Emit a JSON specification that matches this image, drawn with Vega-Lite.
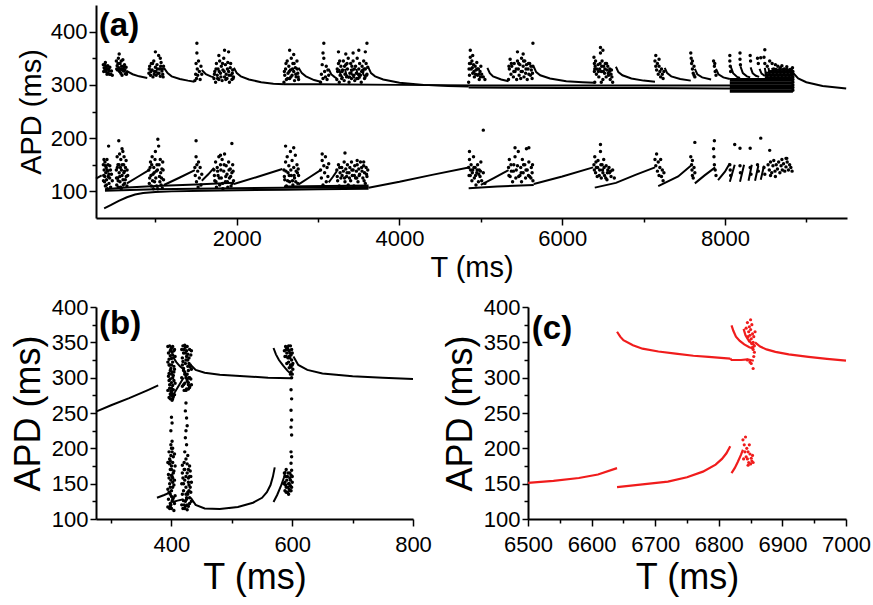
{
"$schema":"https://vega.github.io/schema/vega-lite/v6.json",
"padding":{"left":10,"top":5,"right":5,"bottom":5},
"background":"white",
"config":{"view":{"stroke":null},"font":"Liberation Sans","axis":{"labelFont":"Liberation Sans","titleFont":"Liberation Sans","labelColor":"black","titleColor":"black","domainColor":"black","tickColor":"black","labelFontSize":22,"domainWidth":2,"tickWidth":1.5,"grid":false,"titleFontWeight":"normal","labelPadding":2,"labelOverlap":false,"labelFlush":false,"format":"d"}},
"datasets":{
"aL":[
{"g":"S0","x":270,"y":124},{"g":"S0","x":340,"y":130},
{"g":"L1","x":370,"y":68},{"g":"L1","x":450,"y":74},{"g":"L1","x":550,"y":82},{"g":"L1","x":650,"y":89},{"g":"L1","x":750,"y":94},{"g":"L1","x":850,"y":97},{"g":"L1","x":1000,"y":99},{"g":"L1","x":1200,"y":100},{"g":"L1","x":1600,"y":101},{"g":"L1","x":2000,"y":102},{"g":"L1","x":2600,"y":103},{"g":"L1","x":3000,"y":104},{"g":"L1","x":3620,"y":105},
{"g":"L2","x":380,"y":104},{"g":"L2","x":600,"y":107},{"g":"L2","x":1000,"y":110},{"g":"L2","x":1500,"y":113},{"g":"L2","x":1965,"y":116},
{"g":"L3","x":2580,"y":109},{"g":"L3","x":3100,"y":110},{"g":"L3","x":3620,"y":111},
{"g":"L4","x":380,"y":101},{"g":"L4","x":1000,"y":104},{"g":"L4","x":1965,"y":106},{"g":"L4","x":3620,"y":108},
{"g":"S1","x":650,"y":115},{"g":"S1","x":780,"y":127},{"g":"S1","x":920,"y":140},
{"g":"S2","x":1105,"y":112},{"g":"S2","x":1300,"y":126},{"g":"S2","x":1485,"y":140},
{"g":"S3","x":1570,"y":120},{"g":"S3","x":1650,"y":132},{"g":"S3","x":1720,"y":144},
{"g":"S4","x":1965,"y":114},{"g":"S4","x":2250,"y":127},{"g":"S4","x":2560,"y":142},
{"g":"S5","x":2760,"y":113},{"g":"S5","x":2900,"y":127},{"g":"S5","x":3030,"y":140},
{"g":"S6","x":3130,"y":117},{"g":"S6","x":3180,"y":127},{"g":"S6","x":3230,"y":138},
{"g":"S7","x":3620,"y":107},{"g":"S7","x":4000,"y":118},{"g":"S7","x":4400,"y":131},{"g":"S7","x":4850,"y":145},
{"g":"L9","x":4850,"y":106},{"g":"L9","x":5200,"y":109},{"g":"L9","x":5650,"y":112},
{"g":"S8","x":5000,"y":112},{"g":"S8","x":5170,"y":126},{"g":"S8","x":5340,"y":140},
{"g":"S9","x":5650,"y":114},{"g":"S9","x":6000,"y":128},{"g":"S9","x":6380,"y":145},
{"g":"S10","x":6400,"y":107},{"g":"S10","x":6660,"y":116},{"g":"S10","x":6900,"y":131},{"g":"S10","x":7140,"y":145},
{"g":"S11","x":7180,"y":110},{"g":"S11","x":7425,"y":128},{"g":"S11","x":7580,"y":148},
{"g":"S12","x":7630,"y":115},{"g":"S12","x":7750,"y":130},{"g":"S12","x":7880,"y":145},
{"g":"S13","x":7915,"y":121},{"g":"S13","x":8000,"y":137},{"g":"S13","x":8060,"y":153},
{"g":"S14","x":8060,"y":118},{"g":"S14","x":8090,"y":134},{"g":"S14","x":8120,"y":150},
{"g":"S15","x":8185,"y":118},{"g":"S15","x":8210,"y":134},{"g":"S15","x":8235,"y":150},
{"g":"S16","x":8290,"y":120},{"g":"S16","x":8310,"y":135},{"g":"S16","x":8330,"y":150},
{"g":"S17","x":8370,"y":120},{"g":"S17","x":8390,"y":134},{"g":"S17","x":8410,"y":148},
{"g":"S18","x":8440,"y":122},{"g":"S18","x":8460,"y":135},{"g":"S18","x":8480,"y":148},
{"g":"U1","x":650,"y":326},{"g":"U1","x":720,"y":320},{"g":"U1","x":800,"y":316},{"g":"U1","x":900,"y":313},
{"g":"U2","x":1105,"y":332},{"g":"U2","x":1150,"y":322},{"g":"U2","x":1200,"y":316},{"g":"U2","x":1300,"y":311},{"g":"U2","x":1400,"y":308},{"g":"U2","x":1480,"y":306},
{"g":"U3","x":1570,"y":328},{"g":"U3","x":1620,"y":320},{"g":"U3","x":1680,"y":316},{"g":"U3","x":1720,"y":314},
{"g":"U4","x":1965,"y":332},{"g":"U4","x":2000,"y":322},{"g":"U4","x":2050,"y":316},{"g":"U4","x":2150,"y":310},{"g":"U4","x":2300,"y":305},{"g":"U4","x":2450,"y":302},{"g":"U4","x":2580,"y":301},
{"g":"U5","x":2760,"y":332},{"g":"U5","x":2800,"y":322},{"g":"U5","x":2850,"y":316},{"g":"U5","x":2950,"y":309},{"g":"U5","x":3030,"y":306},
{"g":"U6","x":3130,"y":330},{"g":"U6","x":3160,"y":320},{"g":"U6","x":3200,"y":315},{"g":"U6","x":3230,"y":312},
{"g":"W1","x":3260,"y":330},{"g":"W1","x":3275,"y":320},{"g":"W1","x":3310,"y":312},
{"g":"W2","x":3330,"y":330},{"g":"W2","x":3345,"y":320},{"g":"W2","x":3380,"y":312},
{"g":"W3","x":3400,"y":330},{"g":"W3","x":3415,"y":320},{"g":"W3","x":3450,"y":312},
{"g":"W4","x":3470,"y":330},{"g":"W4","x":3485,"y":320},{"g":"W4","x":3520,"y":312},
{"g":"W5","x":3540,"y":330},{"g":"W5","x":3555,"y":320},{"g":"W5","x":3590,"y":312},
{"g":"U8","x":3620,"y":332},{"g":"U8","x":3650,"y":322},{"g":"U8","x":3700,"y":316},{"g":"U8","x":3800,"y":310},{"g":"U8","x":4000,"y":304},{"g":"U8","x":4300,"y":300},{"g":"U8","x":4600,"y":298},{"g":"U8","x":4850,"y":297},
{"g":"U9","x":5080,"y":332},{"g":"U9","x":5110,"y":322},{"g":"U9","x":5150,"y":316},{"g":"U9","x":5250,"y":310},{"g":"U9","x":5340,"y":307},
{"g":"U10","x":5650,"y":334},{"g":"U10","x":5680,"y":324},{"g":"U10","x":5730,"y":318},{"g":"U10","x":5850,"y":312},{"g":"U10","x":6050,"y":307},{"g":"U10","x":6250,"y":305},{"g":"U10","x":6400,"y":304},
{"g":"U11","x":6660,"y":334},{"g":"U11","x":6690,"y":324},{"g":"U11","x":6740,"y":318},{"g":"U11","x":6850,"y":312},{"g":"U11","x":7000,"y":308},{"g":"U11","x":7140,"y":306},
{"g":"U12","x":7260,"y":332},{"g":"U12","x":7290,"y":322},{"g":"U12","x":7340,"y":316},{"g":"U12","x":7450,"y":311},{"g":"U12","x":7580,"y":308},
{"g":"U13","x":7630,"y":330},{"g":"U13","x":7660,"y":320},{"g":"U13","x":7720,"y":314},{"g":"U13","x":7830,"y":310},
{"g":"U14","x":7890,"y":330},{"g":"U14","x":7920,"y":320},{"g":"U14","x":7980,"y":314},{"g":"U14","x":8060,"y":311},
{"g":"U15","x":8070,"y":335},{"g":"U15","x":8100,"y":322},{"g":"U15","x":8150,"y":315},{"g":"U15","x":8185,"y":313},
{"g":"U16","x":8190,"y":335},{"g":"U16","x":8220,"y":322},{"g":"U16","x":8270,"y":316},{"g":"U16","x":8310,"y":314},
{"g":"U17","x":8315,"y":333},{"g":"U17","x":8340,"y":322},{"g":"U17","x":8380,"y":317},{"g":"U17","x":8420,"y":315},
{"g":"U18","x":8425,"y":330},{"g":"U18","x":8450,"y":321},{"g":"U18","x":8490,"y":317},
{"g":"V1","x":8490,"y":332},{"g":"V1","x":8502,"y":321},{"g":"V1","x":8525,"y":315},
{"g":"V2","x":8535,"y":332},{"g":"V2","x":8547,"y":321},{"g":"V2","x":8570,"y":315},
{"g":"V3","x":8580,"y":332},{"g":"V3","x":8592,"y":321},{"g":"V3","x":8615,"y":315},
{"g":"V4","x":8625,"y":332},{"g":"V4","x":8637,"y":321},{"g":"V4","x":8660,"y":315},
{"g":"V5","x":8670,"y":332},{"g":"V5","x":8682,"y":321},{"g":"V5","x":8705,"y":315},
{"g":"V6","x":8715,"y":332},{"g":"V6","x":8727,"y":321},{"g":"V6","x":8750,"y":315},
{"g":"V7","x":8760,"y":332},{"g":"V7","x":8772,"y":321},{"g":"V7","x":8795,"y":315},
{"g":"V8","x":8800,"y":332},{"g":"V8","x":8812,"y":321},{"g":"V8","x":8835,"y":315},
{"g":"U19","x":8835,"y":323},{"g":"U19","x":8900,"y":312},{"g":"U19","x":9000,"y":305},{"g":"U19","x":9200,"y":298},{"g":"U19","x":9490,"y":293},
{"g":"F1","x":2580,"y":301},{"g":"F1","x":3000,"y":301},{"g":"F1","x":4000,"y":300},{"g":"F1","x":5000,"y":299},{"g":"F1","x":6000,"y":299},{"g":"F1","x":7000,"y":299},{"g":"F1","x":8000,"y":299},{"g":"F1","x":8835,"y":299},
{"g":"F2","x":4850,"y":295},{"g":"F2","x":6000,"y":294},{"g":"F2","x":7000,"y":294},{"g":"F2","x":8000,"y":293},{"g":"F2","x":8835,"y":293},
{"g":"K1","x":8060,"y":287},{"g":"K1","x":8835,"y":287},
{"g":"K2","x":8060,"y":290},{"g":"K2","x":8835,"y":290},
{"g":"K3","x":8060,"y":296},{"g":"K3","x":8835,"y":296},
{"g":"K4","x":8060,"y":302},{"g":"K4","x":8835,"y":302},
{"g":"K5","x":8060,"y":305},{"g":"K5","x":8835,"y":305},
{"g":"K6","x":8060,"y":308},{"g":"K6","x":8835,"y":308},
{"g":"K7","x":8060,"y":311},{"g":"K7","x":8835,"y":311},
{"g":"K8","x":8490,"y":314},{"g":"K8","x":8835,"y":314},
{"g":"K9","x":8490,"y":317},{"g":"K9","x":8835,"y":317},
{"g":"K10","x":8490,"y":320},{"g":"K10","x":8835,"y":320},
{"g":"K11","x":8490,"y":323},{"g":"K11","x":8835,"y":323},
{"g":"K12","x":8530,"y":326},{"g":"K12","x":8835,"y":326},
{"g":"K13","x":8600,"y":329},{"g":"K13","x":8835,"y":329}
],
"aP":[
{"x":360,"y":338},{"x":370,"y":332},{"x":380,"y":328},{"x":385,"y":342},{"x":395,"y":325},{"x":400,"y":335},{"x":410,"y":330},{"x":420,"y":322},{"x":430,"y":327},{"x":440,"y":333},{"x":450,"y":320},{"x":460,"y":326},{"x":470,"y":318},{"x":520,"y":345},{"x":530,"y":336},{"x":535,"y":328},{"x":545,"y":350},{"x":550,"y":332},{"x":560,"y":325},{"x":565,"y":340},{"x":575,"y":322},{"x":585,"y":335},{"x":590,"y":318},{"x":600,"y":330},{"x":610,"y":326},{"x":620,"y":338},{"x":630,"y":321},{"x":640,"y":333},{"x":650,"y":324},{"x":555,"y":358},{"x":600,"y":347},
{"x":365,"y":325},{"x":375,"y":338},{"x":390,"y":332},{"x":405,"y":320},{"x":415,"y":336},{"x":425,"y":330},{"x":435,"y":320},{"x":525,"y":330},{"x":540,"y":340},{"x":570,"y":330},{"x":580,"y":345},{"x":595,"y":328},{"x":615,"y":333},{"x":625,"y":328},{"x":645,"y":320},
{"x":360,"y":150},{"x":365,"y":130},{"x":370,"y":140},{"x":375,"y":118},{"x":380,"y":155},{"x":385,"y":110},{"x":390,"y":135},{"x":395,"y":145},{"x":400,"y":122},{"x":405,"y":160},{"x":410,"y":105},{"x":415,"y":138},{"x":420,"y":128},{"x":425,"y":185},{"x":430,"y":115},{"x":440,"y":148},{"x":450,"y":108},{"x":460,"y":132},{"x":470,"y":120},{"x":520,"y":140},{"x":525,"y":112},{"x":530,"y":165},{"x":535,"y":125},{"x":540,"y":150},{"x":545,"y":108},{"x":550,"y":195},{"x":555,"y":135},{"x":560,"y":170},{"x":565,"y":118},{"x":570,"y":145},{"x":575,"y":160},{"x":580,"y":105},{"x":590,"y":130},{"x":600,"y":175},{"x":605,"y":112},{"x":610,"y":150},{"x":620,"y":138},{"x":630,"y":122},{"x":640,"y":158},{"x":650,"y":110},{"x":660,"y":130},{"x":590,"y":180},{"x":615,"y":165},
{"x":362,"y":120},{"x":368,"y":160},{"x":378,"y":128},{"x":388,"y":148},{"x":398,"y":112},{"x":408,"y":140},{"x":418,"y":150},{"x":428,"y":132},{"x":438,"y":125},{"x":448,"y":140},{"x":522,"y":125},{"x":532,"y":145},{"x":542,"y":120},{"x":552,"y":150},{"x":562,"y":128},{"x":572,"y":108},{"x":582,"y":140},{"x":592,"y":150},{"x":602,"y":122},{"x":612,"y":135},{"x":622,"y":115},{"x":632,"y":145},{"x":642,"y":128},{"x":652,"y":140},
{"x":920,"y":322},{"x":930,"y":335},{"x":940,"y":318},{"x":950,"y":340},{"x":960,"y":328},{"x":970,"y":315},{"x":980,"y":345},{"x":990,"y":325},{"x":1000,"y":333},{"x":1010,"y":318},{"x":1020,"y":338},{"x":1030,"y":322},{"x":1040,"y":355},{"x":1050,"y":330},{"x":1060,"y":316},{"x":1070,"y":342},{"x":1080,"y":326},{"x":1090,"y":320},{"x":1100,"y":335},{"x":1000,"y":362},{"x":1060,"y":350},
{"x":925,"y":330},{"x":945,"y":325},{"x":965,"y":340},{"x":985,"y":320},{"x":1005,"y":325},{"x":1025,"y":330},{"x":1045,"y":322},{"x":1065,"y":335},{"x":1085,"y":330},{"x":1095,"y":315},
{"x":920,"y":140},{"x":930,"y":125},{"x":940,"y":155},{"x":950,"y":110},{"x":960,"y":165},{"x":970,"y":132},{"x":980,"y":145},{"x":990,"y":118},{"x":1000,"y":175},{"x":1010,"y":138},{"x":1020,"y":150},{"x":1030,"y":105},{"x":1040,"y":185},{"x":1050,"y":128},{"x":1060,"y":160},{"x":1070,"y":112},{"x":1080,"y":142},{"x":1090,"y":155},{"x":1100,"y":122},{"x":1030,"y":198},{"x":975,"y":105},{"x":1085,"y":106},
{"x":925,"y":115},{"x":935,"y":145},{"x":945,"y":130},{"x":955,"y":150},{"x":965,"y":120},{"x":985,"y":135},{"x":995,"y":160},{"x":1005,"y":125},{"x":1015,"y":110},{"x":1025,"y":140},{"x":1045,"y":150},{"x":1055,"y":118},{"x":1065,"y":135},{"x":1075,"y":125},{"x":1095,"y":140},
{"x":1485,"y":308},{"x":1495,"y":320},{"x":1500,"y":340},{"x":1505,"y":312},{"x":1510,"y":360},{"x":1515,"y":330},{"x":1520,"y":318},{"x":1530,"y":345},{"x":1540,"y":325},{"x":1550,"y":310},{"x":1560,"y":335},{"x":1570,"y":320},{"x":1510,"y":378},
{"x":1485,"y":145},{"x":1490,"y":130},{"x":1500,"y":165},{"x":1505,"y":118},{"x":1510,"y":150},{"x":1520,"y":138},{"x":1525,"y":108},{"x":1530,"y":155},{"x":1540,"y":125},{"x":1550,"y":145},{"x":1560,"y":112},{"x":1570,"y":132},{"x":1500,"y":195},
{"x":1720,"y":312},{"x":1730,"y":325},{"x":1740,"y":305},{"x":1750,"y":340},{"x":1760,"y":318},{"x":1770,"y":330},{"x":1780,"y":310},{"x":1790,"y":345},{"x":1800,"y":322},{"x":1810,"y":335},{"x":1820,"y":308},{"x":1830,"y":328},{"x":1840,"y":350},{"x":1850,"y":315},{"x":1860,"y":338},{"x":1870,"y":320},{"x":1880,"y":312},{"x":1890,"y":342},{"x":1900,"y":325},{"x":1910,"y":305},{"x":1920,"y":332},{"x":1930,"y":318},{"x":1940,"y":310},{"x":1950,"y":328},{"x":1960,"y":315},{"x":1850,"y":365},{"x":1900,"y":362},{"x":1780,"y":355},
{"x":1725,"y":320},{"x":1745,"y":330},{"x":1765,"y":312},{"x":1785,"y":325},{"x":1805,"y":315},{"x":1825,"y":340},{"x":1845,"y":325},{"x":1865,"y":310},{"x":1885,"y":330},{"x":1905,"y":318},{"x":1925,"y":340},{"x":1945,"y":322},{"x":1955,"y":312},
{"x":1720,"y":140},{"x":1730,"y":120},{"x":1740,"y":155},{"x":1750,"y":108},{"x":1760,"y":145},{"x":1770,"y":130},{"x":1780,"y":165},{"x":1790,"y":112},{"x":1800,"y":150},{"x":1810,"y":125},{"x":1820,"y":160},{"x":1830,"y":105},{"x":1840,"y":138},{"x":1850,"y":170},{"x":1860,"y":118},{"x":1870,"y":148},{"x":1880,"y":132},{"x":1890,"y":108},{"x":1900,"y":155},{"x":1910,"y":125},{"x":1920,"y":142},{"x":1930,"y":110},{"x":1940,"y":135},{"x":1950,"y":150},{"x":1960,"y":120},{"x":1940,"y":190},{"x":1800,"y":168},
{"x":1725,"y":130},{"x":1745,"y":118},{"x":1765,"y":138},{"x":1785,"y":125},{"x":1805,"y":140},{"x":1825,"y":115},{"x":1845,"y":150},{"x":1865,"y":128},{"x":1885,"y":118},{"x":1905,"y":140},{"x":1925,"y":128},{"x":1945,"y":115},{"x":1955,"y":138},
{"x":2580,"y":305},{"x":2590,"y":318},{"x":2600,"y":330},{"x":2610,"y":310},{"x":2620,"y":345},{"x":2630,"y":322},{"x":2640,"y":335},{"x":2650,"y":312},{"x":2660,"y":328},{"x":2670,"y":350},{"x":2680,"y":318},{"x":2690,"y":340},{"x":2700,"y":325},{"x":2710,"y":308},{"x":2720,"y":332},{"x":2730,"y":315},{"x":2740,"y":345},{"x":2750,"y":322},{"x":2760,"y":310},{"x":2650,"y":365},{"x":2700,"y":357},
{"x":2585,"y":325},{"x":2605,"y":340},{"x":2625,"y":312},{"x":2645,"y":325},{"x":2665,"y":315},{"x":2685,"y":330},{"x":2705,"y":340},{"x":2725,"y":320},{"x":2745,"y":330},{"x":2755,"y":315},
{"x":2580,"y":140},{"x":2590,"y":122},{"x":2600,"y":155},{"x":2610,"y":110},{"x":2620,"y":165},{"x":2630,"y":135},{"x":2640,"y":148},{"x":2650,"y":118},{"x":2660,"y":175},{"x":2670,"y":130},{"x":2680,"y":158},{"x":2690,"y":112},{"x":2700,"y":145},{"x":2710,"y":125},{"x":2720,"y":168},{"x":2730,"y":138},{"x":2740,"y":150},{"x":2750,"y":115},{"x":2760,"y":130},{"x":2600,"y":185},{"x":2700,"y":182},
{"x":2585,"y":128},{"x":2605,"y":138},{"x":2625,"y":120},{"x":2645,"y":130},{"x":2665,"y":140},{"x":2685,"y":120},{"x":2705,"y":130},{"x":2725,"y":118},{"x":2745,"y":135},{"x":2755,"y":142},
{"x":3030,"y":305},{"x":3040,"y":320},{"x":3050,"y":338},{"x":3060,"y":312},{"x":3070,"y":350},{"x":3080,"y":325},{"x":3090,"y":315},{"x":3100,"y":335},{"x":3110,"y":310},{"x":3120,"y":328},{"x":3130,"y":318},{"x":3070,"y":378},{"x":3060,"y":360},
{"x":3030,"y":140},{"x":3040,"y":125},{"x":3050,"y":158},{"x":3060,"y":112},{"x":3070,"y":148},{"x":3080,"y":135},{"x":3090,"y":165},{"x":3100,"y":118},{"x":3110,"y":145},{"x":3120,"y":128},{"x":3130,"y":152},{"x":3050,"y":170},
{"x":3230,"y":310},{"x":3240,"y":325},{"x":3250,"y":340},{"x":3260,"y":305},{"x":3270,"y":318},{"x":3280,"y":335},{"x":3290,"y":312},{"x":3300,"y":328},{"x":3310,"y":345},{"x":3320,"y":308},{"x":3330,"y":320},{"x":3340,"y":338},{"x":3350,"y":315},{"x":3360,"y":330},{"x":3370,"y":350},{"x":3380,"y":305},{"x":3390,"y":322},{"x":3400,"y":340},{"x":3410,"y":312},{"x":3420,"y":328},{"x":3430,"y":345},{"x":3440,"y":318},{"x":3450,"y":308},{"x":3460,"y":335},{"x":3470,"y":322},{"x":3480,"y":350},{"x":3490,"y":312},{"x":3500,"y":330},{"x":3510,"y":340},{"x":3520,"y":318},{"x":3530,"y":305},{"x":3540,"y":335},{"x":3550,"y":325},{"x":3560,"y":345},{"x":3570,"y":312},{"x":3580,"y":330},{"x":3590,"y":340},{"x":3600,"y":320},{"x":3610,"y":333},{"x":3250,"y":362},{"x":3340,"y":358},{"x":3430,"y":360},{"x":3500,"y":365},{"x":3580,"y":362},{"x":3600,"y":378},
{"x":3235,"y":330},{"x":3265,"y":345},{"x":3295,"y":325},{"x":3325,"y":335},{"x":3355,"y":340},{"x":3385,"y":315},{"x":3415,"y":335},{"x":3445,"y":330},{"x":3475,"y":312},{"x":3505,"y":320},{"x":3535,"y":325},{"x":3565,"y":330},{"x":3595,"y":318},
{"x":3230,"y":140},{"x":3240,"y":120},{"x":3250,"y":150},{"x":3260,"y":110},{"x":3270,"y":135},{"x":3280,"y":125},{"x":3290,"y":145},{"x":3300,"y":108},{"x":3310,"y":138},{"x":3320,"y":155},{"x":3330,"y":118},{"x":3340,"y":142},{"x":3350,"y":128},{"x":3360,"y":150},{"x":3370,"y":112},{"x":3380,"y":135},{"x":3390,"y":145},{"x":3400,"y":120},{"x":3410,"y":155},{"x":3420,"y":130},{"x":3430,"y":140},{"x":3440,"y":110},{"x":3450,"y":148},{"x":3460,"y":125},{"x":3470,"y":138},{"x":3480,"y":150},{"x":3490,"y":118},{"x":3500,"y":142},{"x":3510,"y":132},{"x":3520,"y":155},{"x":3530,"y":108},{"x":3540,"y":138},{"x":3550,"y":125},{"x":3560,"y":148},{"x":3570,"y":135},{"x":3580,"y":115},{"x":3590,"y":145},{"x":3600,"y":128},{"x":3610,"y":140},{"x":3330,"y":172},{"x":3480,"y":158},{"x":3560,"y":155},
{"x":3235,"y":128},{"x":3265,"y":145},{"x":3295,"y":130},{"x":3325,"y":125},{"x":3355,"y":135},{"x":3385,"y":125},{"x":3415,"y":140},{"x":3445,"y":130},{"x":3475,"y":125},{"x":3505,"y":130},{"x":3535,"y":145},{"x":3565,"y":120},{"x":3595,"y":132},
{"x":4850,"y":305},{"x":4860,"y":340},{"x":4870,"y":352},{"x":4880,"y":330},{"x":4890,"y":345},{"x":4900,"y":322},{"x":4910,"y":338},{"x":4920,"y":315},{"x":4930,"y":335},{"x":4940,"y":328},{"x":4950,"y":342},{"x":4960,"y":318},{"x":4970,"y":330},{"x":4980,"y":310},{"x":4990,"y":325},{"x":5000,"y":335},{"x":5010,"y":320},{"x":5030,"y":315},{"x":5050,"y":310},{"x":4870,"y":365},{"x":4900,"y":355},{"x":4860,"y":318},
{"x":4855,"y":330},{"x":4875,"y":340},{"x":4895,"y":332},{"x":4915,"y":325},{"x":4935,"y":320},{"x":4955,"y":330},{"x":4975,"y":320},{"x":4995,"y":315},
{"x":4850,"y":145},{"x":4860,"y":160},{"x":4870,"y":130},{"x":4880,"y":150},{"x":4890,"y":120},{"x":4900,"y":140},{"x":4910,"y":165},{"x":4920,"y":125},{"x":4930,"y":145},{"x":4940,"y":112},{"x":4950,"y":135},{"x":4960,"y":150},{"x":4970,"y":118},{"x":4980,"y":140},{"x":4990,"y":128},{"x":5000,"y":155},{"x":5010,"y":120},{"x":5030,"y":135},{"x":5050,"y":115},{"x":4860,"y":175},{"x":5030,"y":215},
{"x":4855,"y":130},{"x":4875,"y":140},{"x":4895,"y":135},{"x":4915,"y":145},{"x":4935,"y":130},{"x":4955,"y":140},{"x":4975,"y":132},{"x":4995,"y":138},
{"x":5340,"y":310},{"x":5350,"y":330},{"x":5360,"y":348},{"x":5370,"y":320},{"x":5380,"y":335},{"x":5400,"y":315},{"x":5410,"y":340},{"x":5420,"y":325},{"x":5440,"y":310},{"x":5450,"y":345},{"x":5460,"y":330},{"x":5470,"y":318},{"x":5480,"y":338},{"x":5490,"y":312},{"x":5500,"y":350},{"x":5510,"y":325},{"x":5520,"y":335},{"x":5530,"y":315},{"x":5540,"y":345},{"x":5550,"y":322},{"x":5560,"y":338},{"x":5570,"y":310},{"x":5580,"y":330},{"x":5590,"y":320},{"x":5600,"y":340},{"x":5610,"y":318},{"x":5620,"y":328},{"x":5630,"y":312},{"x":5640,"y":335},{"x":5450,"y":362},{"x":5520,"y":358},{"x":5640,"y":378},
{"x":5345,"y":335},{"x":5375,"y":340},{"x":5405,"y":325},{"x":5435,"y":330},{"x":5465,"y":340},{"x":5495,"y":325},{"x":5525,"y":345},{"x":5555,"y":330},{"x":5585,"y":340},{"x":5615,"y":335},{"x":5635,"y":322},
{"x":5340,"y":145},{"x":5350,"y":160},{"x":5360,"y":128},{"x":5370,"y":150},{"x":5390,"y":118},{"x":5400,"y":138},{"x":5420,"y":165},{"x":5430,"y":125},{"x":5450,"y":148},{"x":5460,"y":175},{"x":5480,"y":130},{"x":5490,"y":145},{"x":5500,"y":118},{"x":5510,"y":160},{"x":5520,"y":135},{"x":5540,"y":150},{"x":5550,"y":125},{"x":5560,"y":180},{"x":5570,"y":140},{"x":5590,"y":155},{"x":5600,"y":128},{"x":5620,"y":145},{"x":5630,"y":135},{"x":5640,"y":120},{"x":5420,"y":182},{"x":5590,"y":182},
{"x":5345,"y":130},{"x":5375,"y":138},{"x":5405,"y":150},{"x":5435,"y":140},{"x":5465,"y":128},{"x":5495,"y":135},{"x":5525,"y":150},{"x":5555,"y":140},{"x":5585,"y":130},{"x":5615,"y":125},{"x":5635,"y":150},
{"x":6390,"y":352},{"x":6395,"y":340},{"x":6400,"y":330},{"x":6410,"y":345},{"x":6420,"y":320},{"x":6440,"y":338},{"x":6450,"y":315},{"x":6460,"y":330},{"x":6470,"y":360},{"x":6480,"y":325},{"x":6490,"y":345},{"x":6500,"y":310},{"x":6510,"y":335},{"x":6520,"y":322},{"x":6530,"y":340},{"x":6540,"y":315},{"x":6550,"y":328},{"x":6560,"y":335},{"x":6570,"y":318},{"x":6580,"y":325},{"x":6590,"y":310},{"x":6600,"y":320},{"x":6610,"y":315},{"x":6620,"y":305},{"x":6500,"y":365},{"x":6470,"y":370},{"x":6400,"y":305},{"x":6480,"y":305},
{"x":6395,"y":325},{"x":6405,"y":335},{"x":6425,"y":330},{"x":6445,"y":325},{"x":6465,"y":340},{"x":6485,"y":335},{"x":6505,"y":325},{"x":6525,"y":330},{"x":6545,"y":340},{"x":6565,"y":322},{"x":6585,"y":330},{"x":6605,"y":328},
{"x":6390,"y":150},{"x":6400,"y":165},{"x":6410,"y":135},{"x":6420,"y":145},{"x":6430,"y":128},{"x":6440,"y":158},{"x":6460,"y":140},{"x":6470,"y":175},{"x":6480,"y":125},{"x":6490,"y":150},{"x":6500,"y":135},{"x":6510,"y":160},{"x":6520,"y":130},{"x":6540,"y":148},{"x":6550,"y":122},{"x":6560,"y":140},{"x":6580,"y":135},{"x":6600,"y":128},{"x":6620,"y":140},{"x":6640,"y":125},{"x":6470,"y":188},
{"x":6395,"y":140},{"x":6415,"y":155},{"x":6435,"y":145},{"x":6455,"y":130},{"x":6475,"y":150},{"x":6495,"y":140},{"x":6515,"y":145},{"x":6535,"y":125},{"x":6555,"y":135},{"x":6575,"y":145},{"x":6595,"y":138},
{"x":7140,"y":345},{"x":7150,"y":335},{"x":7160,"y":328},{"x":7170,"y":340},{"x":7180,"y":320},{"x":7190,"y":335},{"x":7200,"y":325},{"x":7210,"y":315},{"x":7220,"y":330},{"x":7230,"y":320},{"x":7240,"y":312},{"x":7250,"y":325},{"x":7150,"y":355},{"x":7190,"y":348},
{"x":7140,"y":160},{"x":7150,"y":148},{"x":7160,"y":170},{"x":7170,"y":138},{"x":7180,"y":155},{"x":7190,"y":130},{"x":7200,"y":145},{"x":7210,"y":160},{"x":7220,"y":128},{"x":7230,"y":140},{"x":7240,"y":120},{"x":7250,"y":135},
{"x":7580,"y":360},{"x":7585,"y":350},{"x":7590,"y":340},{"x":7600,"y":330},{"x":7610,"y":322},{"x":7620,"y":318},{"x":7630,"y":315},{"x":7600,"y":345},{"x":7620,"y":335},
{"x":7580,"y":165},{"x":7590,"y":150},{"x":7595,"y":140},{"x":7600,"y":130},{"x":7610,"y":125},{"x":7620,"y":145},{"x":7630,"y":135},{"x":7600,"y":158},{"x":7630,"y":192},
{"x":7860,"y":345},{"x":7870,"y":335},{"x":7880,"y":325},{"x":7890,"y":318},{"x":7875,"y":340},
{"x":7860,"y":180},{"x":7865,"y":165},{"x":7870,"y":150},{"x":7880,"y":140},{"x":7890,"y":130},{"x":7870,"y":195},
{"x":8060,"y":355},{"x":8060,"y":345},{"x":8065,"y":335},{"x":8070,"y":325},{"x":8185,"y":360},{"x":8185,"y":348},{"x":8190,"y":338},{"x":8310,"y":355},{"x":8315,"y":345},{"x":8400,"y":350},{"x":8410,"y":340},{"x":8480,"y":352},{"x":8490,"y":340},{"x":8520,"y":335},{"x":8550,"y":345},{"x":8580,"y":340},{"x":8600,"y":330},{"x":8620,"y":338},{"x":8650,"y":335},{"x":8680,"y":332},{"x":8700,"y":336},{"x":8730,"y":330},{"x":8760,"y":334},{"x":8800,"y":328},{"x":8830,"y":332},{"x":8490,"y":366},{"x":8440,"y":351},
{"x":8835,"y":290},{"x":8835,"y":295},{"x":8835,"y":300},{"x":8835,"y":305},{"x":8835,"y":310},{"x":8835,"y":315},{"x":8835,"y":320},{"x":8835,"y":325},
{"x":8060,"y":150},{"x":8065,"y":140},{"x":8070,"y":130},{"x":8185,"y":148},{"x":8190,"y":135},{"x":8310,"y":145},{"x":8320,"y":132},{"x":8400,"y":150},{"x":8410,"y":138},{"x":8480,"y":145},{"x":8490,"y":132},
{"x":8530,"y":150},{"x":8545,"y":140},{"x":8560,"y":155},{"x":8575,"y":135},{"x":8590,"y":148},{"x":8600,"y":158},{"x":8615,"y":138},{"x":8630,"y":150},{"x":8645,"y":142},{"x":8660,"y":155},{"x":8675,"y":135},{"x":8690,"y":148},{"x":8705,"y":140},{"x":8720,"y":152},{"x":8735,"y":138},{"x":8750,"y":146},{"x":8765,"y":155},{"x":8780,"y":140},{"x":8795,"y":150},{"x":8810,"y":145},{"x":8825,"y":138},{"x":8560,"y":130},{"x":8620,"y":128},{"x":8700,"y":160},{"x":8760,"y":162},{"x":8440,"y":200},{"x":8550,"y":177},{"x":8310,"y":181},{"x":8185,"y":181},{"x":8750,"y":162},{"x":8120,"y":188}
],
"bL":[
{"g":"B1","x":275,"y":252},{"g":"B1","x":300,"y":261},{"g":"B1","x":330,"y":271},{"g":"B1","x":360,"y":282},{"g":"B1","x":378,"y":289},
{"g":"B2","x":376,"y":130},{"g":"B2","x":388,"y":134},{"g":"B2","x":399,"y":138},
{"g":"B3","x":402,"y":330},{"g":"B3","x":408,"y":322},{"g":"B3","x":414,"y":316},{"g":"B3","x":420,"y":312},
{"g":"B4","x":400,"y":272},{"g":"B4","x":406,"y":280},{"g":"B4","x":413,"y":290},{"g":"B4","x":420,"y":300},
{"g":"B5","x":402,"y":124},{"g":"B5","x":410,"y":126},{"g":"B5","x":420,"y":128},
{"g":"B6","x":432,"y":318},{"g":"B6","x":440,"y":311},{"g":"B6","x":455,"y":307},{"g":"B6","x":480,"y":304},{"g":"B6","x":520,"y":302},{"g":"B6","x":560,"y":300},{"g":"B6","x":598,"y":299},
{"g":"B7","x":432,"y":130},{"g":"B7","x":440,"y":120},{"g":"B7","x":455,"y":115},{"g":"B7","x":480,"y":114},{"g":"B7","x":510,"y":117},{"g":"B7","x":535,"y":123},{"g":"B7","x":550,"y":130},{"g":"B7","x":558,"y":138},{"g":"B7","x":564,"y":148},{"g":"B7","x":568,"y":160},{"g":"B7","x":571,"y":173},
{"g":"B8","x":569,"y":124},{"g":"B8","x":575,"y":134},{"g":"B8","x":581,"y":146},{"g":"B8","x":586,"y":158},{"g":"B8","x":589,"y":168},
{"g":"B9","x":569,"y":342},{"g":"B9","x":573,"y":333},{"g":"B9","x":578,"y":325},{"g":"B9","x":585,"y":317},{"g":"B9","x":592,"y":310},{"g":"B9","x":598,"y":305},
{"g":"B10","x":602,"y":330},{"g":"B10","x":610,"y":318},{"g":"B10","x":625,"y":311},{"g":"B10","x":650,"y":306},{"g":"B10","x":700,"y":302},{"g":"B10","x":750,"y":300},{"g":"B10","x":800,"y":298}
],
"bP":[
{"x":397,"y":345},{"x":399,"y":340},{"x":401,"y":336},{"x":398,"y":331},{"x":400,"y":327},{"x":402,"y":322},{"x":397,"y":318},{"x":399,"y":313},{"x":401,"y":308},{"x":403,"y":303},{"x":398,"y":298},{"x":400,"y":293},{"x":402,"y":289},{"x":397,"y":285},{"x":399,"y":281},{"x":401,"y":277},{"x":403,"y":273},{"x":398,"y":270},{"x":400,"y":342},{"x":402,"y":332},{"x":396,"y":326},{"x":404,"y":316},{"x":396,"y":306},{"x":404,"y":296},{"x":397,"y":290},{"x":403,"y":283},{"x":399,"y":275},{"x":401,"y":268},{"x":398,"y":338},{"x":402,"y":344},
{"x":394,"y":344},{"x":405,"y":340},{"x":395,"y":335},{"x":406,"y":330},{"x":394,"y":322},{"x":405,"y":312},{"x":395,"y":302},{"x":406,"y":292},{"x":394,"y":282},{"x":405,"y":276},{"x":396,"y":272},{"x":404,"y":338},{"x":396,"y":318},{"x":404,"y":308},{"x":398,"y":310},{"x":402,"y":300},{"x":400,"y":285},{"x":398,"y":277},{"x":396,"y":296},{"x":400,"y":318},{"x":400,"y":305},{"x":400,"y":280},{"x":402,"y":270},
{"x":397,"y":115},{"x":399,"y":120},{"x":401,"y":125},{"x":403,"y":130},{"x":398,"y":135},{"x":400,"y":140},{"x":402,"y":145},{"x":397,"y":150},{"x":399,"y":155},{"x":401,"y":160},{"x":403,"y":165},{"x":398,"y":170},{"x":400,"y":175},{"x":402,"y":180},{"x":397,"y":185},{"x":399,"y":190},{"x":401,"y":195},{"x":400,"y":200},{"x":399,"y":205},{"x":401,"y":210},{"x":398,"y":118},{"x":402,"y":128},{"x":396,"y":138},{"x":404,"y":148},{"x":396,"y":158},{"x":404,"y":168},{"x":397,"y":178},{"x":403,"y":188},{"x":398,"y":122},{"x":400,"y":132},{"x":402,"y":152},{"x":400,"y":162},{"x":400,"y":244},{"x":401,"y":236},{"x":399,"y":225},
{"x":394,"y":117},{"x":405,"y":122},{"x":395,"y":128},{"x":406,"y":133},{"x":394,"y":142},{"x":405,"y":155},{"x":395,"y":163},{"x":406,"y":175},{"x":394,"y":180},{"x":405,"y":192},{"x":396,"y":195},{"x":404,"y":112},{"x":400,"y":115},{"x":398,"y":145},{"x":402,"y":158},{"x":400,"y":170},{"x":398,"y":182},{"x":402,"y":200},
{"x":419,"y":345},{"x":421,"y":340},{"x":423,"y":335},{"x":425,"y":330},{"x":427,"y":325},{"x":429,"y":320},{"x":431,"y":315},{"x":420,"y":310},{"x":422,"y":305},{"x":424,"y":300},{"x":426,"y":295},{"x":428,"y":290},{"x":430,"y":286},{"x":421,"y":282},{"x":423,"y":343},{"x":425,"y":338},{"x":427,"y":333},{"x":429,"y":328},{"x":419,"y":323},{"x":431,"y":318},{"x":420,"y":313},{"x":422,"y":308},{"x":424,"y":303},{"x":426,"y":298},{"x":428,"y":293},{"x":430,"y":288},{"x":425,"y":284},{"x":418,"y":328},{"x":432,"y":332},{"x":427,"y":316},{"x":423,"y":320},{"x":429,"y":300},
{"x":417,"y":340},{"x":433,"y":338},{"x":418,"y":318},{"x":433,"y":312},{"x":417,"y":300},{"x":432,"y":298},{"x":418,"y":288},{"x":433,"y":290},{"x":422,"y":346},{"x":426,"y":344},{"x":430,"y":340},{"x":420,"y":335},{"x":424,"y":325},{"x":428,"y":310},{"x":426,"y":305},{"x":422,"y":292},{"x":430,"y":300},{"x":420,"y":290},{"x":424,"y":282},{"x":428,"y":284},
{"x":419,"y":115},{"x":421,"y":120},{"x":423,"y":125},{"x":425,"y":130},{"x":427,"y":135},{"x":429,"y":140},{"x":431,"y":145},{"x":420,"y":150},{"x":422,"y":155},{"x":424,"y":160},{"x":426,"y":165},{"x":428,"y":170},{"x":430,"y":175},{"x":421,"y":180},{"x":423,"y":118},{"x":425,"y":128},{"x":427,"y":138},{"x":429,"y":148},{"x":419,"y":158},{"x":431,"y":168},{"x":426,"y":113},{"x":424,"y":185},{"x":422,"y":195},{"x":425,"y":205},{"x":423,"y":215},{"x":424,"y":225},{"x":426,"y":232},{"x":425,"y":243},{"x":423,"y":253},{"x":424,"y":264},{"x":427,"y":190},{"x":421,"y":170},{"x":430,"y":122},{"x":428,"y":152},
{"x":417,"y":120},{"x":433,"y":125},{"x":418,"y":135},{"x":432,"y":138},{"x":417,"y":150},{"x":433,"y":152},{"x":418,"y":165},{"x":432,"y":160},{"x":422,"y":115},{"x":426,"y":120},{"x":430,"y":130},{"x":420,"y":140},{"x":424,"y":145},{"x":428,"y":158},{"x":422,"y":170},{"x":426,"y":178},{"x":420,"y":126},{"x":428,"y":118},{"x":424,"y":135},{"x":430,"y":160},{"x":418,"y":176},
{"x":587,"y":338},{"x":589,"y":344},{"x":591,"y":335},{"x":593,"y":340},{"x":595,"y":330},{"x":597,"y":345},{"x":599,"y":325},{"x":600,"y":335},{"x":601,"y":320},{"x":598,"y":315},{"x":596,"y":328},{"x":594,"y":322},{"x":592,"y":342},{"x":590,"y":330},{"x":598,"y":308},{"x":600,"y":305},{"x":599,"y":300},{"x":601,"y":312},{"x":597,"y":318},{"x":595,"y":338},
{"x":588,"y":330},{"x":591,"y":320},{"x":593,"y":328},{"x":596,"y":335},{"x":599,"y":340},{"x":590,"y":340},{"x":594,"y":345},{"x":600,"y":318},{"x":598,"y":332},{"x":595,"y":314},{"x":597,"y":305},
{"x":598,"y":283},{"x":599,"y":270},{"x":598,"y":254},{"x":599,"y":240},{"x":598,"y":230},{"x":599,"y":219},{"x":598,"y":195},{"x":599,"y":188},{"x":598,"y":179},{"x":599,"y":169},
{"x":586,"y":150},{"x":588,"y":140},{"x":589,"y":160},{"x":590,"y":145},{"x":591,"y":155},{"x":592,"y":138},{"x":593,"y":165},{"x":594,"y":150},{"x":595,"y":142},{"x":596,"y":158},{"x":597,"y":147},{"x":598,"y":162},{"x":600,"y":152},{"x":590,"y":170},{"x":594,"y":135},{"x":587,"y":165},{"x":596,"y":140},{"x":599,"y":145},
{"x":588,"y":152},{"x":592,"y":160},{"x":595,"y":150},{"x":597,"y":155},{"x":590,"y":138},{"x":593,"y":145},{"x":598,"y":140},{"x":600,"y":160},{"x":589,"y":148},{"x":596,"y":165}
],
"cL":[
{"g":"C1","x":6500,"y":151},{"g":"C1","x":6540,"y":154},{"g":"C1","x":6580,"y":158},{"g":"C1","x":6610,"y":163},{"g":"C1","x":6640,"y":172},
{"g":"C2","x":6640,"y":365},{"g":"C2","x":6645,"y":358},{"g":"C2","x":6650,"y":353},{"g":"C2","x":6665,"y":346},{"g":"C2","x":6680,"y":341},{"g":"C2","x":6705,"y":337},{"g":"C2","x":6732,"y":334},{"g":"C2","x":6760,"y":331},{"g":"C2","x":6784,"y":329.5},{"g":"C2","x":6818,"y":327},
{"g":"C3","x":6818,"y":327},{"g":"C3","x":6820,"y":325},{"g":"C3","x":6835,"y":325},{"g":"C3","x":6845,"y":326},{"g":"C3","x":6855,"y":324},
{"g":"C4","x":6640,"y":145},{"g":"C4","x":6680,"y":149},{"g":"C4","x":6720,"y":153},{"g":"C4","x":6750,"y":159},{"g":"C4","x":6775,"y":167},{"g":"C4","x":6795,"y":177},{"g":"C4","x":6805,"y":185},{"g":"C4","x":6812,"y":193},{"g":"C4","x":6818,"y":203},
{"g":"C5","x":6820,"y":165},{"g":"C5","x":6825,"y":172},{"g":"C5","x":6830,"y":181},{"g":"C5","x":6835,"y":191},{"g":"C5","x":6838,"y":198},
{"g":"C6","x":6820,"y":374},{"g":"C6","x":6823,"y":366},{"g":"C6","x":6827,"y":358},{"g":"C6","x":6833,"y":352},{"g":"C6","x":6840,"y":347},{"g":"C6","x":6848,"y":343},{"g":"C6","x":6855,"y":341},
{"g":"C7","x":6839,"y":369},{"g":"C7","x":6842,"y":360},{"g":"C7","x":6846,"y":354},{"g":"C7","x":6851,"y":349},{"g":"C7","x":6856,"y":346},
{"g":"C8","x":6857,"y":350},{"g":"C8","x":6865,"y":344},{"g":"C8","x":6875,"y":340},{"g":"C8","x":6889,"y":336.5},{"g":"C8","x":6910,"y":333},{"g":"C8","x":6941,"y":329.5},{"g":"C8","x":6970,"y":326.5},{"g":"C8","x":7000,"y":324}
],
"cP":[
{"x":6843,"y":370},{"x":6845,"y":378},{"x":6847,"y":365},{"x":6848,"y":372},{"x":6849,"y":360},{"x":6850,"y":368},{"x":6851,"y":355},{"x":6852,"y":375},{"x":6853,"y":362},{"x":6854,"y":350},{"x":6855,"y":358},{"x":6856,"y":345},{"x":6857,"y":365},{"x":6850,"y":382},{"x":6846,"y":358},{"x":6852,"y":348},{"x":6854,"y":340},{"x":6848,"y":352},{"x":6856,"y":336},{"x":6853,"y":343},{"x":6855,"y":330},{"x":6851,"y":320},{"x":6854,"y":313},{"x":6849,"y":322},{"x":6845,"y":325},
{"x":6838,"y":212},{"x":6842,"y":216},{"x":6840,"y":205},{"x":6844,"y":200},{"x":6846,"y":195},{"x":6848,"y":205},{"x":6843,"y":188},{"x":6845,"y":185},{"x":6847,"y":180},{"x":6849,"y":192},{"x":6851,"y":186},{"x":6853,"y":190},{"x":6850,"y":178},{"x":6852,"y":182},{"x":6846,"y":176},{"x":6841,"y":195},{"x":6839,"y":185},{"x":6854,"y":180}
]
},
"bounds":"flush",
"spacing":89,
"vconcat":[
{"width":751,"height":213,
"encoding":{
"x":{"field":"x","type":"quantitative","scale":{"domain":[270,9500],"nice":false,"zero":false},"axis":{"title":"T (ms)","titleFontSize":29,"titlePadding":4,"labelPadding":3,"values":[1000,2000,3000,4000,5000,6000,7000,8000,9000],"labelExpr":"datum.value % 2000 === 0 ? datum.label : ''","tickSize":{"condition":{"test":"datum.value % 2000 === 0","value":7},"value":4}}},
"y":{"field":"y","type":"quantitative","scale":{"domain":[50,450],"nice":false,"zero":false},"axis":{"title":"APD (ms)","titleFontSize":29,"titlePadding":4,"values":[100,150,200,250,300,350,400],"labelExpr":"datum.value % 100 === 0 ? datum.label : ''","tickSize":{"condition":{"test":"datum.value % 100 === 0","value":7},"value":4}}}
},
"layer":[
{"data":{"name":"aL"},"mark":{"type":"line","color":"black","strokeWidth":2},"encoding":{"detail":{"field":"g"}}},
{"data":{"name":"aP"},"mark":{"type":"point","filled":true,"color":"black","size":12,"opacity":1}},
{"data":{"values":[{"x":305,"y":391,"t":"(a)"}]},"mark":{"type":"text","align":"left","baseline":"alphabetic","fontSize":33,"fontWeight":"bold","font":"Liberation Sans","color":"black"},"encoding":{"text":{"field":"t"}}}
]},
{"bounds":"flush","spacing":115,"hconcat":[
{"width":317,"height":212,
"encoding":{
"x":{"field":"x","type":"quantitative","scale":{"domain":[275,800],"nice":false,"zero":false},"axis":{"title":"T (ms)","titleFontSize":36,"titlePadding":5,"labelPadding":8,"values":[300,400,500,600,700,800],"labelExpr":"datum.value % 200 === 0 ? datum.label : ''","tickSize":{"condition":{"test":"datum.value % 200 === 0","value":7},"value":4}}},
"y":{"field":"y","type":"quantitative","scale":{"domain":[100,400],"nice":false,"zero":false},"axis":{"title":"APD (ms)","titleFontSize":36,"titlePadding":4,"values":[100,125,150,175,200,225,250,275,300,325,350,375,400],"labelExpr":"datum.value % 50 === 0 ? datum.label : ''","tickSize":{"condition":{"test":"datum.value % 50 === 0","value":6},"value":4}}}
},
"layer":[
{"data":{"name":"bL"},"mark":{"type":"line","color":"black","strokeWidth":2},"encoding":{"detail":{"field":"g"}}},
{"data":{"name":"bP"},"mark":{"type":"point","filled":true,"color":"black","size":12,"opacity":1}},
{"data":{"values":[{"x":280,"y":362,"t":"(b)"}]},"mark":{"type":"text","align":"left","baseline":"alphabetic","fontSize":33,"fontWeight":"bold","font":"Liberation Sans","color":"black"},"encoding":{"text":{"field":"t"}}}
]},
{"width":318,"height":212,
"encoding":{
"x":{"field":"x","type":"quantitative","scale":{"domain":[6500,7000],"nice":false,"zero":false},"axis":{"title":"T (ms)","titleFontSize":36,"titlePadding":5,"labelPadding":8,"values":[6500,6550,6600,6650,6700,6750,6800,6850,6900,6950,7000],"labelExpr":"datum.value % 100 === 0 ? datum.label : ''","tickSize":{"condition":{"test":"datum.value % 100 === 0","value":7},"value":4}}},
"y":{"field":"y","type":"quantitative","scale":{"domain":[100,400],"nice":false,"zero":false},"axis":{"title":"APD (ms)","titleFontSize":36,"titlePadding":4,"values":[100,125,150,175,200,225,250,275,300,325,350,375,400],"labelExpr":"datum.value % 50 === 0 ? datum.label : ''","tickSize":{"condition":{"test":"datum.value % 50 === 0","value":6},"value":4}}}
},
"layer":[
{"data":{"name":"cL"},"mark":{"type":"line","color":"#f01c1c","strokeWidth":2.2},"encoding":{"detail":{"field":"g"}}},
{"data":{"name":"cP"},"mark":{"type":"point","filled":true,"color":"#f01c1c","size":10,"opacity":1}},
{"data":{"values":[{"x":6506,"y":355,"t":"(c)"}]},"mark":{"type":"text","align":"left","baseline":"alphabetic","fontSize":33,"fontWeight":"bold","font":"Liberation Sans","color":"black"},"encoding":{"text":{"field":"t"}}}
]}
]}
]
}
